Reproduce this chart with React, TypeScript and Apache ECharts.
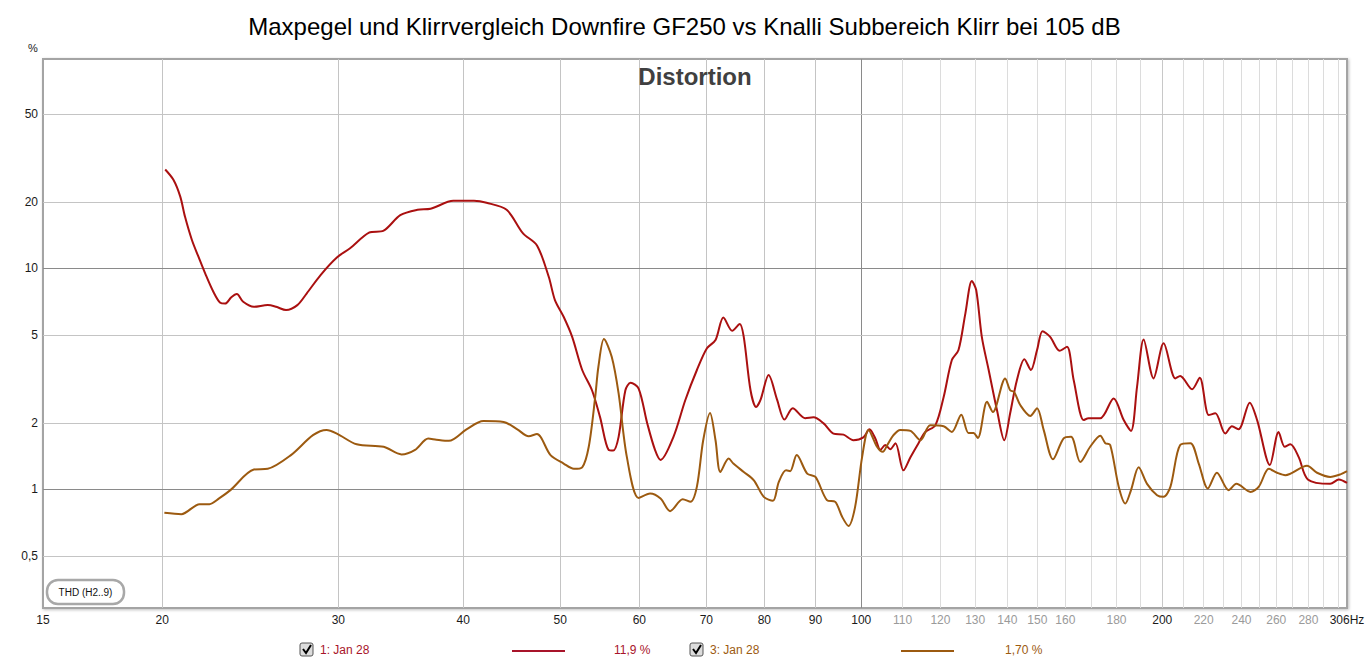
import React, { useEffect, useRef } from 'react';
import * as echarts from 'echarts';

// THD readings, frequency in Hz and distortion in %
const redFreq = [
  20.14, 20.53, 20.85, 21.08, 21.42, 21.74, 22.08, 22.5, 22.86, 23.12, 23.45, 23.75, 24.1, 24.7, 25.5, 26.0, 26.6, 27.3, 27.9, 28.8,
  29.9, 30.8, 32.2, 33.3, 34.6, 36.0, 37.1, 39.1, 41.0, 42.2, 44.2, 45.9, 47.4, 48.7, 49.4, 50.4, 51.4, 52.6,
  53.8, 54.8, 55.9, 56.5, 57.2, 58.1, 58.8, 59.9, 61.1, 62.2, 63.0, 64.9, 66.7, 68.5, 70.1, 71.5, 72.8, 74.3,
  75.6, 76.3, 77.5, 78.5, 79.3, 80.8, 82.4, 83.8, 85.4, 87.9, 89.6, 91.7, 93.8, 96.0, 98.2, 100.5, 101.9,
  103.3, 104.5, 105.7, 106.9, 108.2, 110.2, 112.0, 114.1, 115.9, 118.6, 120.9, 123.2, 125.1, 127.1, 129.0,
  130.3, 132.0, 134.1, 136.7, 139.0, 140.9, 143.1, 145.6, 147.8, 149.9, 151.8, 154.5, 157.9, 160.6, 163.1,
  166.9, 168.8, 173.4, 178.8, 183.0, 186.1, 188.7, 191.6, 196.0, 200.6, 206.1, 208.4, 214.2, 218.0, 222.6,
  226.0, 231.2, 234.8, 238.4, 244.6, 248.8, 256.2, 261.4, 265.1, 268.6, 273.8, 279.6, 294.4, 300.3, 306.0,
];
const redThd = [
  28.0, 25.1, 21.1, 17.1, 13.4, 11.3, 9.49, 7.84, 6.99, 6.93, 7.4, 7.65, 7.06, 6.7, 6.82, 6.7, 6.48, 6.82, 7.71, 9.33,
  11.2, 12.3, 14.5, 14.8, 17.4, 18.4, 18.6, 20.2, 20.2, 19.8, 18.4, 14.4, 12.7, 9.16, 7.19, 6.04, 4.9, 3.47,
  2.81, 2.13, 1.51, 1.5, 1.73, 2.81, 3.04, 2.86, 1.99, 1.51, 1.36, 1.73, 2.54, 3.47, 4.35, 4.74, 6.0, 5.22,
  5.6, 4.9, 2.81, 2.36, 2.54, 3.29, 2.54, 2.07, 2.33, 2.1, 2.12, 1.99, 1.79, 1.77, 1.67, 1.72, 1.87,
  1.7, 1.51, 1.59, 1.52, 1.62, 1.22, 1.4, 1.62, 1.82, 1.95, 2.62, 3.85, 4.27, 6.26, 8.76,
  7.98, 4.9, 3.47, 2.28, 1.67, 2.21, 3.12, 3.88, 3.47, 4.27, 5.2, 4.9, 4.24, 4.42, 3.12,
  2.06, 2.1, 2.1, 2.58, 2.06, 1.84, 2.91, 4.77, 3.18, 4.58, 3.18, 3.26, 2.84, 3.2, 2.17,
  2.21, 1.79, 1.93, 1.87, 2.47, 2.06, 1.29, 1.82, 1.56, 1.6, 1.4, 1.11, 1.06, 1.11, 1.07,
];

const brownFreq = [
  20.1, 20.9, 21.8, 22.3, 22.8, 23.4, 24.7, 25.5, 26.9, 28.3, 29.2, 29.9, 31.3, 33.3, 34.7, 35.8, 36.9, 37.6,
  38.7, 40.3, 41.9, 43.9, 45.3, 46.5, 47.4, 48.9, 50.4, 51.6, 52.6, 53.4, 54.2, 54.6, 55.3, 56.3, 57.2, 58.3,
  59.9, 61.5, 63.0, 64.4, 66.3, 67.5, 68.5, 69.5, 70.6, 71.5, 72.3, 73.7, 74.5, 76.3, 78.1, 79.9, 81.6, 82.7,
  84.1, 84.9, 86.2, 88.3, 90.0, 92.4, 94.2, 95.7, 97.1, 98.6, 100.2, 101.7, 103.7, 105.1, 106.2, 107.7, 109.4,
  112.0, 114.6, 117.2, 120.9, 123.2, 125.9, 128.0, 129.5, 130.8, 133.6, 135.4, 139.3, 140.9, 142.2, 144.2,
  147.6, 149.9, 152.2, 155.5, 159.3, 162.1, 165.6, 169.4, 173.4, 175.4, 177.4, 180.9, 183.7, 186.1, 189.4,
  193.1, 197.6, 200.6, 203.8, 208.4, 213.4, 217.5, 222.1, 226.8, 233.0, 237.2, 245.0, 249.8, 255.6, 260.5,
  265.5, 279.1, 285.6, 294.4, 301.4, 306.0,
];
const brownThd = [
  0.784, 0.773, 0.858, 0.858, 0.911, 0.993, 1.23, 1.24, 1.43, 1.76, 1.86, 1.79, 1.6, 1.56, 1.44, 1.51, 1.7, 1.68,
  1.66, 1.87, 2.04, 2.02, 1.87, 1.74, 1.78, 1.43, 1.31, 1.24, 1.26, 1.56, 2.62, 3.59, 4.79, 3.98, 2.72, 1.4,
  0.916, 0.959, 0.911, 0.798, 0.904, 0.879, 1.03, 1.67, 2.22, 1.67, 1.2, 1.38, 1.31, 1.2, 1.1, 0.926, 0.888, 1.08,
  1.22, 1.21, 1.43, 1.18, 1.14, 0.895, 0.879, 0.752, 0.684, 0.834, 1.4, 1.86, 1.56, 1.48, 1.59, 1.76, 1.86,
  1.84, 1.67, 1.95, 1.93, 1.82, 2.18, 1.8, 1.8, 1.71, 2.49, 2.24, 3.18, 2.81, 2.76, 2.41,
  2.15, 2.33, 1.86, 1.37, 1.7, 1.73, 1.33, 1.56, 1.75, 1.62, 1.59, 1.03, 0.864, 0.993, 1.26,
  1.06, 0.942, 0.926, 1.03, 1.59, 1.62, 1.31, 1.01, 1.19, 0.993, 1.06, 0.975, 1.03, 1.24, 1.19,
  1.16, 1.28, 1.19, 1.14, 1.17, 1.21,
];

// axes
const X_MIN = 15.2;
const X_MAX = 306;
const Y_MIN = 0.291;
const Y_MAX = 88.5;
const xGridValues = [
  20, 30, 40, 50, 60, 70, 80, 90, 100, 110, 120, 130, 140, 150, 160, 170, 180, 190, 200,
  210, 220, 230, 240, 250, 260, 270, 280, 290, 300,
];
const xTickValues = [15.2, 20, 30, 40, 50, 60, 70, 80, 90, 100, 110, 120, 130, 140, 150, 160, 180, 200, 220, 240, 260, 280, 306];
const xTickLabels = ['15', '20', '30', '40', '50', '60', '70', '80', '90', '100', '110', '120', '130', '140', '150', '160', '180', '200', '220', '240', '260', '280', '306Hz'];
const yTickValues = [50, 20, 10, 5, 2, 1, 0.5];
const yTickLabels = ['50', '20', '10', '5', '2', '1', '0,5'];

const RED = '#aa1010';
const BROWN = '#9c5a10';
const FONT = '"Liberation Sans", Arial, sans-serif';

const App: React.FC = () => {
  const chartRef = useRef<HTMLDivElement>(null);

  useEffect(() => {
    const chart = echarts.init(chartRef.current, null, { renderer: 'svg' });

    const xLabel = (v: number) => {
      const i = xTickValues.indexOf(v);
      if (i < 0) return { show: false };
      const dark = v <= 100 || v === 200 || v === 306;
      return {
        show: true, position: 'start', distance: 6, formatter: xTickLabels[i],
        color: dark ? '#1a1a1a' : '#9a9a9a', fontSize: 12, fontFamily: FONT,
      };
    };

    const gridLines: any[] = [];
    xGridValues.forEach(v => {
      let color = v < 100 ? '#c4c4c4' : '#dcdcdc';
      if (v === 100) color = '#8a8a8a';
      if (v === 200) color = '#c8c8c8';
      gridLines.push({ xAxis: v, lineStyle: { color, width: 1, type: 'solid' }, label: xLabel(v) });
    });
    xTickValues.filter(v => xGridValues.indexOf(v) < 0).forEach(v => {
      gridLines.push({ xAxis: v, lineStyle: { color: 'rgba(0,0,0,0)', width: 1 }, label: xLabel(v) });
    });
    yTickValues.forEach((v, i) => {
      const major = v === 10 || v === 1;
      gridLines.push({
        yAxis: v,
        lineStyle: { color: major ? '#8a8a8a' : '#c4c4c4', width: 1, type: 'solid' },
        label: {
          show: true, position: 'start', distance: 5, formatter: yTickLabels[i],
          color: '#1a1a1a', fontSize: 12, fontFamily: FONT,
        },
      });
    });

    const legendGraphic = (x: number, text: string, lineX: number, value: string, valueX: number, color: string) => [
      { type: 'rect', shape: { x, y: 643, width: 13, height: 13, r: 2 }, style: { fill: '#dcdcdc', stroke: '#555', lineWidth: 1 } },
      { type: 'polyline', shape: { points: [[x + 3, 649], [x + 6, 653], [x + 11, 645]] }, style: { stroke: '#000', lineWidth: 2, fill: null } },
      { type: 'text', x: x + 20, y: 650, style: { text, fill: color, font: `12px ${FONT}`, verticalAlign: 'middle' } },
      { type: 'line', shape: { x1: lineX, y1: 651, x2: lineX + 53, y2: 651 }, style: { stroke: color, lineWidth: 2 } },
      { type: 'text', x: valueX, y: 650, style: { text: value, fill: color, font: `12px ${FONT}`, verticalAlign: 'middle' } },
    ];

    const option = {
      animation: false,
      title: {
        text: 'Maxpegel und Klirrvergleich Downfire GF250 vs Knalli Subbereich Klirr bei 105 dB',
        left: 'center',
        top: 9,
        textStyle: { fontSize: 24, fontWeight: 'normal', color: '#000', fontFamily: FONT },
      },
      grid: {
        left: 43, top: 59, width: 1304, height: 549,
        show: true, backgroundColor: '#fff', borderColor: '#a4a4a4', borderWidth: 2,
        shadowColor: 'rgba(0,0,0,0.25)', shadowBlur: 3, shadowOffsetX: 1, shadowOffsetY: 1,
      },
      xAxis: {
        type: 'log', logBase: 10, min: X_MIN, max: X_MAX,
        axisLine: { show: false }, axisTick: { show: false }, axisLabel: { show: false }, splitLine: { show: false },
      },
      yAxis: {
        type: 'log', logBase: 10, min: Y_MIN, max: Y_MAX,
        axisLine: { show: false }, axisTick: { show: false }, axisLabel: { show: false }, splitLine: { show: false },
      },
      graphic: [
        { type: 'text', x: 33, y: 48, style: { text: '%', fill: '#1a1a1a', font: `11px ${FONT}`, align: 'center', verticalAlign: 'middle' } },
        { type: 'text', x: 695, y: 76, z: 10, style: { text: 'Distortion', fill: '#404040', font: `bold 24px ${FONT}`, align: 'center', verticalAlign: 'middle' } },
        { type: 'rect', z: 10, shape: { x: 47, y: 580, width: 77, height: 24, r: 11 }, style: { fill: '#fff', stroke: '#a8a8a8', lineWidth: 2.5 } },
        { type: 'text', z: 11, x: 85.5, y: 592.5, style: { text: 'THD (H2..9)', fill: '#111', font: `10px ${FONT}`, align: 'center', verticalAlign: 'middle' } },
        ...legendGraphic(300, '1: Jan 28', 512, '11,9 %', 614, '#a8142a'),
        ...legendGraphic(690, '3: Jan 28', 901, '1,70 %', 1005, BROWN),
      ],
      series: [
        {
          name: '1: Jan 28',
          type: 'line',
          data: redFreq.map((f, i) => [f, redThd[i]]),
          showSymbol: false,
          smooth: 0.3,
          z: 3,
          lineStyle: { color: RED, width: 2 },
          markLine: { silent: true, symbol: ['none', 'none'], z: 1, animation: false, data: gridLines },
        },
        {
          name: '3: Jan 28',
          type: 'line',
          data: brownFreq.map((f, i) => [f, brownThd[i]]),
          showSymbol: false,
          smooth: 0.3,
          z: 4,
          lineStyle: { color: BROWN, width: 2 },
        },
      ],
    };

    chart.setOption(option);

    return () => {
      chart.dispose();
    };
  }, []);

  return <div ref={chartRef} style={{ position: 'absolute', left: 0, top: 0, width: '1369px', height: '665px' }} />;
};

export default App;
